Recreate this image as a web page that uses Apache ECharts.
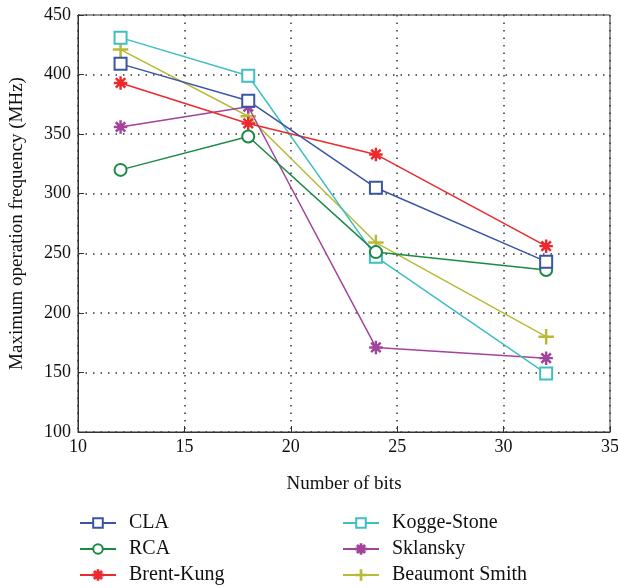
<!DOCTYPE html>
<html><head><meta charset="utf-8">
<script src="https://cdn.jsdelivr.net/npm/echarts@6/dist/echarts.min.js"></script>
<style>html,body{margin:0;padding:0;background:#fff}#c{width:618px;height:588px}</style>
</head><body><div id="c"></div>
<script>
const bits = [12, 18, 24, 32];
const seriesNames = ['CLA', 'RCA', 'Brent-Kung', 'Kogge-Stone', 'Sklansky', 'Beaumont Smith'];
const CLA = [409, 378, 305, 243];
const RCA = [320, 348, 251, 236];
const BrentKung = [393, 359, 333, 256];
const KoggeStone = [431, 399, 247, 149];
const Sklansky = [356, 373, 171, 162];
const BeaumontSmith = [421, 365, 259, 180];
const xTicks = [10, 15, 20, 25, 30, 35];
const yTicks = [100, 150, 200, 250, 300, 350, 400, 450];

const values = [CLA, RCA, BrentKung, KoggeStone, Sklansky, BeaumontSmith];
const colors = ['#3a55a6', '#1c8a45', '#ec2a2e', '#3ebfc2', '#a2449c', '#b9b93a'];
const plusPath = 'path://M-0.7,-10 L0.7,-10 L0.7,-0.7 L10,-0.7 L10,0.7 L0.7,0.7 L0.7,10 L-0.7,10 L-0.7,0.7 L-10,0.7 L-10,-0.7 L-0.7,-0.7 Z';
const starPath = 'path://M-0.8,-10 L0.8,-10 L0.8,-0.8 L10,-0.8 L10,0.8 L0.8,0.8 L0.8,10 L-0.8,10 L-0.8,0.8 L-10,0.8 L-10,-0.8 L-0.8,-0.8 Z M-7.6,-6.4 L-6.4,-7.6 L7.6,6.4 L6.4,7.6 Z M6.4,-7.6 L7.6,-6.4 L-6.4,7.6 L-7.6,6.4 Z';
const symbols = ['emptyRect', 'emptyCircle', starPath, 'emptyRect', starPath, plusPath];
const sizes = [12, 12, 12, 12, 12, 14];

const font = 'Liberation Serif';
const chart = echarts.init(document.getElementById('c'));
const series = seriesNames.map((n, i) => ({
  name: n, type: 'line',
  data: bits.map((b, j) => [b, values[i][j]]),
  symbol: symbols[i], symbolSize: sizes[i],
  lineStyle: { color: colors[i], width: 1.5 },
  itemStyle: { color: colors[i], borderColor: colors[i], borderWidth: 1.5 },
  emphasis: { disabled: true },
  z: 10 - i
}));
const legendCommon = {
  orient: 'vertical', itemWidth: 36, itemHeight: 12, itemGap: 6, height: 150,
  textStyle: { fontFamily: font, fontSize: 20, color: '#111', lineHeight: 20, padding: [0, 0, 0, 8] }
};
chart.setOption({
  animation: false,
  color: colors,
  grid: { left: 78, right: 8, top: 15, bottom: 156, outerBoundsMode: 'none', containLabel: false,
          show: true, borderColor: '#333', borderWidth: 1, backgroundColor: 'transparent' },
  legend: [
    Object.assign({ left: 74, top: 508, data: seriesNames.slice(0, 3) }, legendCommon),
    Object.assign({ left: 337, top: 508, data: seriesNames.slice(3) }, legendCommon)
  ],
  xAxis: {
    type: 'value', min: 10, max: 35, interval: 5,
    name: 'Number of bits', nameLocation: 'middle', nameGap: 43,
    nameTextStyle: { fontFamily: font, fontSize: 19, color: '#111' },
    axisLine: { onZero: false, lineStyle: { color: '#333', width: 1 } },
    axisTick: { inside: true, length: 6, lineStyle: { color: '#333' } },
    axisLabel: { fontFamily: font, fontSize: 18, color: '#111', margin: 6 },
    splitLine: { show: true, lineStyle: { type: [1.5, 6], color: '#333', width: 1.5 } }
  },
  yAxis: {
    type: 'value', min: 100, max: 450, interval: 50,
    name: 'Maximum operation frequency (MHz)', nameLocation: 'middle', nameGap: 51,
    nameTextStyle: { fontFamily: font, fontSize: 19, color: '#111' },
    axisLine: { onZero: false, lineStyle: { color: '#333', width: 1 } },
    axisTick: { inside: true, length: 6, lineStyle: { color: '#333' } },
    axisLabel: { fontFamily: font, fontSize: 18, color: '#111', margin: 7 },
    splitLine: { show: true, lineStyle: { type: [1.5, 6], color: '#333', width: 1.5 } }
  },
  series: series
});
</script></body></html>
